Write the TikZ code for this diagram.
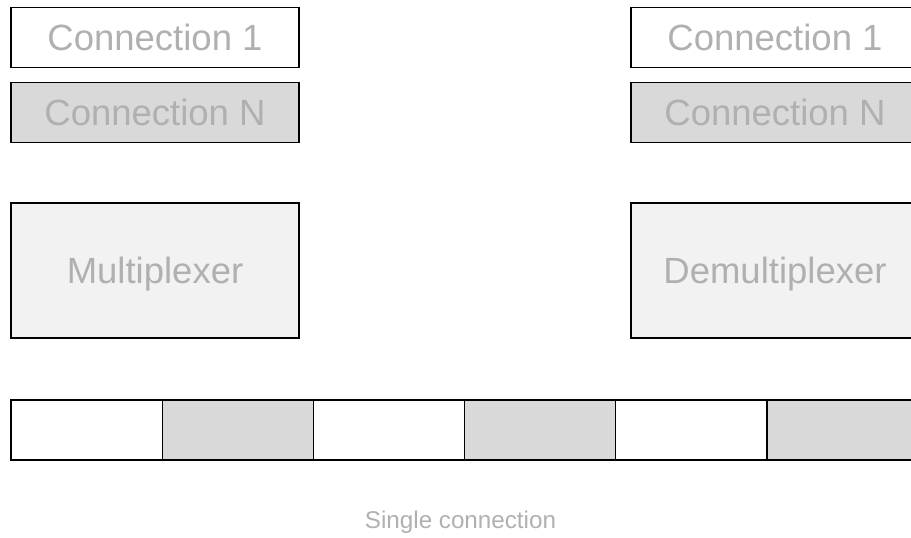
\documentclass[tikz,border=0pt]{standalone}
\usepackage{fontspec}
\setmainfont{Liberation Sans}
\usepackage{xcolor}
\usepackage{tikz}
\usetikzlibrary{positioning,calc}
\definecolor{txtgray}{HTML}{B0B0B0}
\definecolor{cellgray}{HTML}{D9D9D9}
\definecolor{boxgray}{HTML}{F2F2F2}
\tikzstyle{conbox}= [rectangle, draw, line width=1.5pt, inner sep=0pt, minimum width=288pt, minimum height=60pt, text=txtgray, text height=26pt, text depth=0pt, font=\fontsize{36.5}{40}\selectfont]
\tikzstyle{muxbox}= [conbox, fill=boxgray, minimum height=135pt]
\tikzstyle{cell}= [rectangle, draw, line width=1.2pt, inner sep=0pt, minimum width=151.2pt, minimum height=60pt]

\begin{document}
\begin{tikzpicture}[x=1pt, y=-1pt]
						\clip (0,0) rectangle (911,538);
						\node[conbox] (c1l) at (155, 37.5) {Connection 1};
						\node[conbox, fill=cellgray] (cnl) at (155, 112.5) {Connection N};
						\node[muxbox] (mux) at (155, 270.5) {Multiplexer};
						\node[conbox] (c1r) at (775, 37.5) {Connection 1};
						\node[conbox, fill=cellgray] (cnr) at (775, 112.5) {Connection N};
						\node[muxbox] (demux) at (775, 270.5) {Demultiplexer};
						\node[cell] (s1) at (86.6, 430) {};
						\node[cell, fill=cellgray] (s2) at (237.8, 430) {};
						\node[cell] (s3) at (389, 430) {};
						\node[cell, fill=cellgray] (s4) at (540.2, 430) {};
						\node[cell] (s5) at (691.4, 430) {};
						\node[cell, fill=cellgray] (s6) at (842.6, 430) {};
						\node[text=txtgray, text height=17.5pt, text depth=0pt, inner sep=0pt, font=\fontsize{24.2}{28}\selectfont] (lbl) at (460.5, 519.5) {Single connection};
					\end{tikzpicture}
\end{document}
